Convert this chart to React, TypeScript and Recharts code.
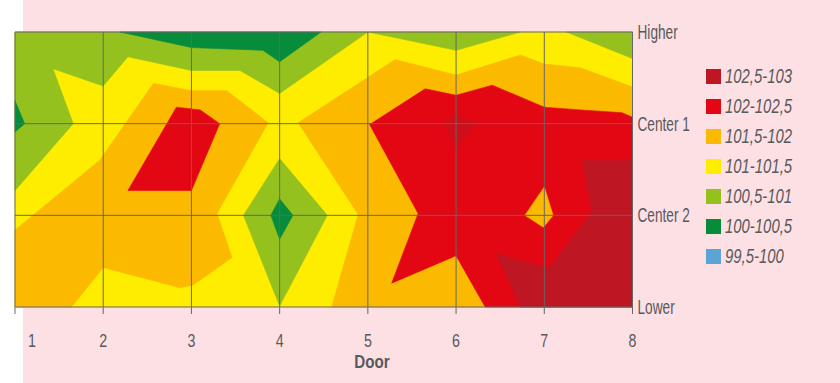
import React from 'react';
import { ComposedChart, Scatter, XAxis, YAxis } from 'recharts';

// ---------- data ----------
const doors = [1, 2, 3, 4, 5, 6, 7, 8];
const levelValues = [0, 1, 2, 3];
const levelNames = ['Lower', 'Center 2', 'Center 1', 'Higher'];

const bandLabels = ['102,5-103', '102-102,5', '101,5-102', '101-101,5', '100,5-101', '100-100,5', '99,5-100'];
const bandColors = ['#BE1622', '#E30613', '#FBBA00', '#FFED00', '#95C11F', '#068C3A', '#5BA4D6'];

type Pt = [number, number];

// contour regions, vertices in (door, level) units
const yellowBase: Pt[] = [[1, 0], [8, 0], [8, 3], [1, 3]];
const limeLeft: Pt[] = [[1, 3], [5, 3], [4, 2.33], [3.55, 2.58], [3, 2.58], [2.28, 2.73], [2, 2.41], [1.43, 2.6], [1.66, 2], [1, 1.27]];
const limeTopMid: Pt[] = [[5, 3], [6, 2.8], [6.73, 3]];
const limeTopRight: Pt[] = [[7.25, 3], [8, 2.71], [8, 3]];
const limeDiamond: Pt[] = [[4, 1.62], [4.54, 1], [4, 0.01], [3.59, 1]];
const greenTop: Pt[] = [[2.19, 3], [3, 2.83], [3.81, 2.8], [4, 2.675], [4.47, 3]];
const greenLeft: Pt[] = [[1, 2.25], [1.11, 2.0], [1, 1.91]];
const greenDiamond: Pt[] = [[4, 1.18], [4.15, 1], [4, 0.74], [3.9, 1]];
const orangeLeft: Pt[] = [[1, 0], [1, 0.84], [1.96, 1.6], [2.57, 2.44], [3, 2.36], [3.4, 2.36], [3.87, 2.01], [3.29, 1.02], [3.46, 0.54], [3.02, 0.24], [2.87, 0.21], [2, 0.43], [1.64, 0]];
const orangeRight: Pt[] = [[4.59, 0], [4.89, 1.01], [4.21, 2.01], [5.31, 2.7], [6, 2.53], [6.73, 2.75], [7, 2.65], [7.41, 2.61], [8, 2.4], [8, 0]];
const redLeft: Pt[] = [[2.83, 2.18], [3.1, 2.15], [3.32, 2], [3, 1.27], [2.28, 1.27]];
const redRight: Pt[] = [[5.02, 1.99], [5.65, 2.38], [6, 2.31], [6.41, 2.42], [7, 2.18], [7.41, 2.15], [7.88, 2.12], [8, 2.07], [8, 0], [6.33, 0], [6, 0.56], [5.27, 0.26], [5.57, 1.02]];
const darkRedCorner: Pt[] = [[7.43, 1.6], [8, 1.6], [8, 0], [6.73, 0], [6.46, 0.58], [7.05, 0.42], [7.54, 1.04]];
const darkRedSpot: Pt[] = [[6, 2.11], [6.23, 2], [6, 1.745], [5.86, 2]];
const orangeSpot: Pt[] = [[7, 1.31], [7.1, 1.0], [6.99, 0.87], [6.78, 1.0]];

// band index per region (drawn in this order)
const regions: { band: number; pts: Pt[]; faint?: boolean }[] = [
  { band: 3, pts: yellowBase },
  { band: 4, pts: limeLeft },
  { band: 4, pts: limeTopMid },
  { band: 4, pts: limeTopRight },
  { band: 4, pts: limeDiamond },
  { band: 5, pts: greenTop },
  { band: 5, pts: greenLeft },
  { band: 5, pts: greenDiamond },
  { band: 2, pts: orangeLeft },
  { band: 2, pts: orangeRight },
  { band: 1, pts: redLeft },
  { band: 1, pts: redRight },
  { band: 0, pts: darkRedCorner },
  { band: 0, pts: darkRedSpot, faint: true },
  { band: 2, pts: orangeSpot },
];

// ---------- styles ----------
const FONT = '"Liberation Sans", Arial, sans-serif';
const TEXT = '#58595B';
const GRID = '#666666';
const PINK = '#FDE0E4';

const EmptyShape = () => <g />;

const polygonLine = (color: string, opacity: number) => (props: any) => {
  const pts = (props.points || []) as { x: number; y: number }[];
  const d = pts.map((p, i) => `${i ? 'L' : 'M'}${p.x},${p.y}`).join('') + 'Z';
  return <path d={d} fill={color} fillOpacity={opacity} stroke={color} strokeOpacity={opacity} strokeWidth={0.6} />;
};

const gridLine = (props: any) => {
  const pts = (props.points || []) as { x: number; y: number }[];
  const d = pts.map((p, i) => `${i ? 'L' : 'M'}${p.x},${p.y}`).join('');
  return <path d={d} fill="none" stroke={GRID} strokeWidth={1} />;
};

const XTick = (props: any) => {
  const { x, y, payload } = props;
  const dx = payload.value === 1 ? 17 : 0;
  return (
    <text
      transform={`translate(${x + dx},${y + 31}) scale(0.75,1)`}
      textAnchor="middle"
      fill={TEXT}
      fontSize={19}
      fontFamily={FONT}
    >
      {payload.value}
    </text>
  );
};

const YTick = (props: any) => {
  const { x, y, payload } = props;
  return (
    <text
      transform={`translate(${x},${y}) scale(0.7,1)`}
      dy="0.35em"
      textAnchor="start"
      fill={TEXT}
      fontSize={19.5}
      fontFamily={FONT}
    >
      {levelNames[payload.value]}
    </text>
  );
};

const NoTick = () => <g />;

export default function App() {
  const toData = (pts: Pt[]) => pts.map(([x, y]) => ({ x, y }));
  const vLines = doors.map((d) => toData([[d, 0], [d, 3]]));
  const hLines = levelValues.map((l) => toData([[1, l], [8, l]]));

  return (
    <div style={{ position: 'absolute', left: 0, top: 0, width: 840, height: 383, background: '#ffffff', overflow: 'hidden' }}>
      <div style={{ position: 'absolute', left: 23, top: 0, width: 817, height: 383, background: PINK }} />
      <div style={{ position: 'absolute', left: 0, top: 0 }}>
        <ComposedChart width={840} height={383} margin={{ top: 32, right: 127.5, bottom: 26, left: 15 }}>
          <XAxis
            xAxisId="b"
            type="number"
            dataKey="x"
            domain={[1, 8]}
            ticks={doors}
            interval={0}
            orientation="bottom"
            height={50}
            axisLine={false}
            tickSize={7}
            tickMargin={2}
            tickLine={{ stroke: GRID }}
            tick={<XTick />}
          />
          <XAxis
            xAxisId="t"
            type="number"
            dataKey="x"
            domain={[1, 8]}
            ticks={doors}
            interval={0}
            orientation="top"
            height={0}
            axisLine={false}
            tickSize={6}
            tickLine={{ stroke: GRID }}
            tick={<NoTick />}
          />
          <YAxis
            yAxisId="r"
            type="number"
            dataKey="y"
            domain={[0, 3]}
            ticks={levelValues}
            interval={0}
            orientation="right"
            width={80}
            axisLine={false}
            tickLine={false}
            tickSize={0}
            tickMargin={5}
            tick={<YTick />}
          />
          {regions.map((r, i) => (
            <Scatter
              key={`r${i}`}
              xAxisId="b"
              yAxisId="r"
              data={toData(r.pts)}
              fill={bandColors[r.band]}
              line={polygonLine(bandColors[r.band], r.faint ? 0.5 : 1)}
              lineType="joint"
              shape={EmptyShape}
              isAnimationActive={false}
            />
          ))}
          {vLines.map((l, i) => (
            <Scatter key={`v${i}`} xAxisId="b" yAxisId="r" data={l} line={gridLine} lineType="joint" shape={EmptyShape} isAnimationActive={false} />
          ))}
          {hLines.map((l, i) => (
            <Scatter key={`h${i}`} xAxisId="b" yAxisId="r" data={l} line={gridLine} lineType="joint" shape={EmptyShape} isAnimationActive={false} />
          ))}
        </ComposedChart>
      </div>
      <div
        style={{
          position: 'absolute',
          left: 372,
          top: 362,
          transform: 'translate(-50%, -50%) scale(0.82, 1)',
          fontFamily: FONT,
          fontWeight: 'bold',
          fontSize: 18.5,
          color: TEXT,
          whiteSpace: 'nowrap',
        }}
      >
        Door
      </div>
      {bandLabels.map((lab, i) => (
        <div key={lab} style={{ position: 'absolute', left: 706, top: 68.5 + i * 30, height: 15, display: 'flex', alignItems: 'center' }}>
          <div style={{ width: 15, height: 15, background: bandColors[i], flex: 'none' }} />
          <span
            style={{
              display: 'inline-block',
              marginLeft: 4,
              fontFamily: FONT,
              fontStyle: 'italic',
              fontSize: 20,
              color: TEXT,
              whiteSpace: 'nowrap',
              lineHeight: '15px',
              transform: 'scale(0.745, 1)',
              transformOrigin: 'left center',
            }}
          >
            {lab}
          </span>
        </div>
      ))}
    </div>
  );
}
